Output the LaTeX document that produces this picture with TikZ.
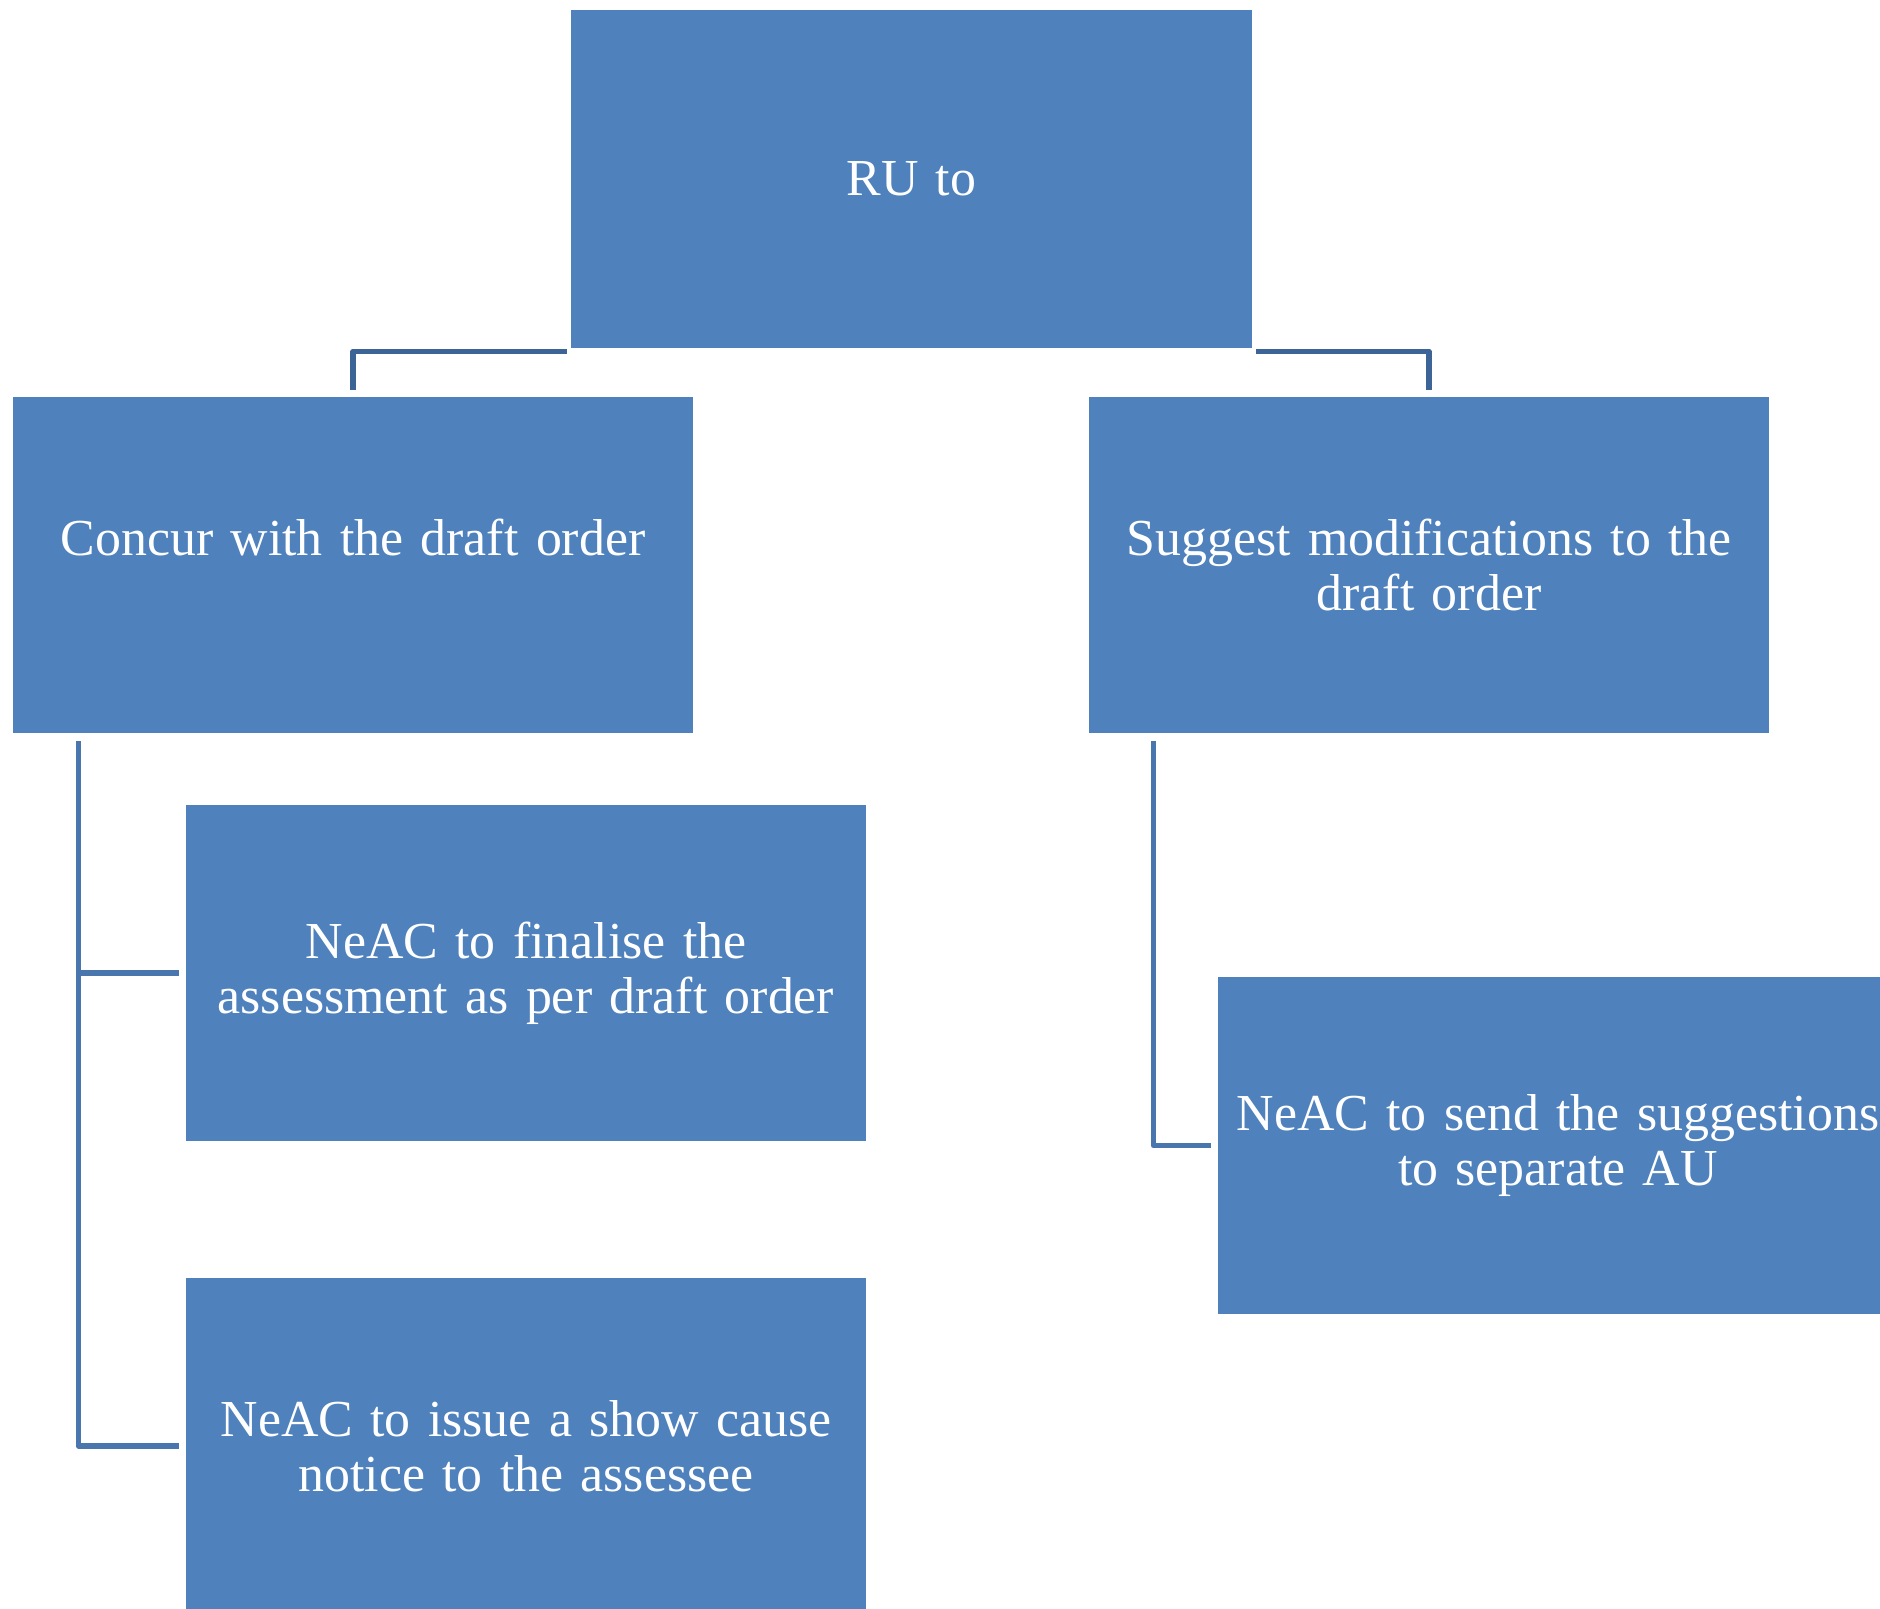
\documentclass[tikz,border=0pt]{standalone}
\usepackage{fontspec}
\setmainfont{Liberation Serif}
\definecolor{boxblue}{HTML}{4F81BD}
\definecolor{linkdark}{HTML}{3C6496}
\definecolor{linkmid}{HTML}{4A76AE}
\tikzset{
  box/.style={rectangle, fill=boxblue, minimum width=6.8cm, minimum height=3.36cm,
    inner sep=0pt, text=white, align=center, text width=6.7cm,
    font=\fontsize{14.75}{15.6}\selectfont},
  linkA/.style={draw=linkdark, line width=1.45pt, line join=round},
  linkB/.style={draw=linkmid, line width=1.45pt, line join=round}
}
\begin{document}
\begin{tikzpicture}[x=0.01cm,y=-0.01cm]
\useasboundingbox (0,0) rectangle (1880,1608);
\clip (0,0) rectangle (1880,1608);
\node[box, minimum height=3.38cm] (top) at (911.5,179) {RU to};
\node[box] (left) at (353,565) {Concur with the draft order\\\mbox{}};
\node[box] (right) at (1429,565) {Suggest modifications to the\\draft order};
\node[box] (n1) at (526,973) {NeAC to finalise the\\assessment as per draft order};
\node[box] (n2) at (526,1446) {NeAC to issue a show cause\\notice to the assessee};
\node[box] (n3) at (1558,1145.5) {NeAC to send the suggestions\\to separate AU};
% top connectors
\draw[linkA] ([xshift=-0.4mm,yshift=-0.25mm]top.south west) -| ([yshift=0.6mm]left.north);
\draw[linkA] ([xshift=0.4mm,yshift=-0.25mm]top.south east) -| ([yshift=0.6mm]right.north);
% left spine
\coordinate (ls) at ([xshift=6.6mm,yshift=-0.7mm]left.south west);
\draw[linkB] (ls) |- ([xshift=-0.6mm]n2.west);
\draw[linkB] (ls |- n1.west) -- ([xshift=-0.6mm]n1.west);
% right spine
\coordinate (rs) at ([xshift=6.5mm,yshift=-0.7mm]right.south west);
\draw[linkB] (rs) |- ([xshift=-0.6mm]n3.west);
\end{tikzpicture}
\end{document}
